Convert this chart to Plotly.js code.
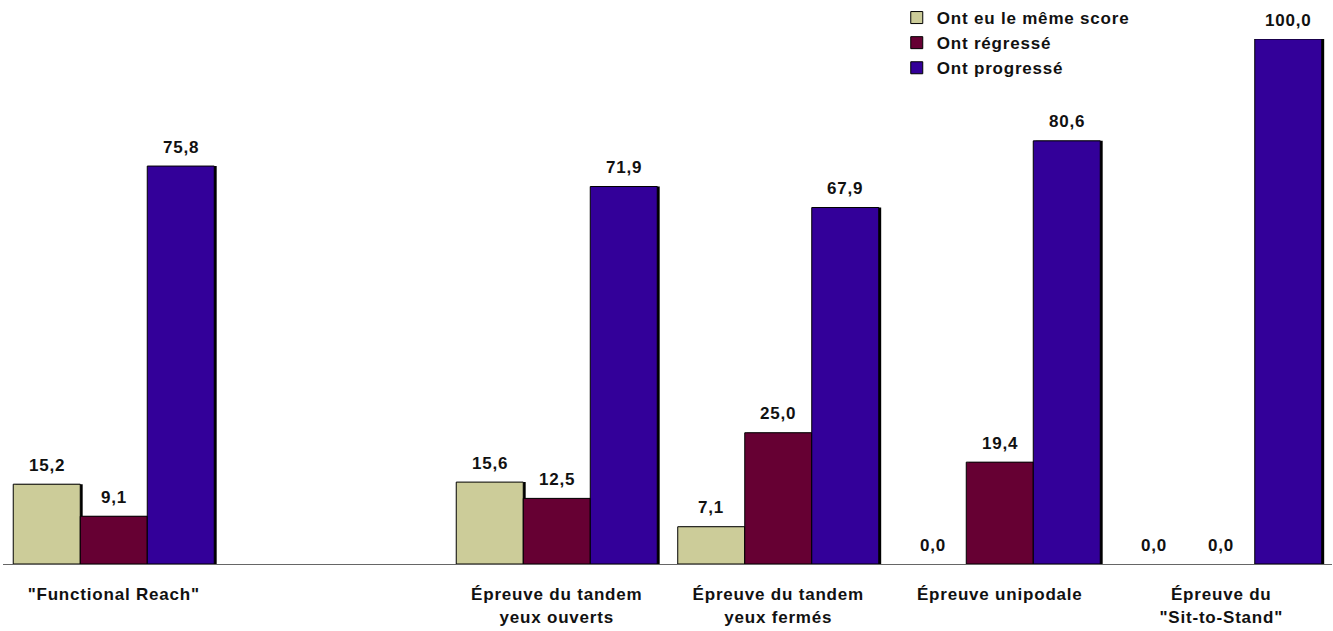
<!DOCTYPE html>
<html>
<head>
<meta charset="utf-8">
<script src="https://cdn.plot.ly/plotly-3.0.1.min.js"></script>
<style>
html,body{margin:0;padding:0;background:#fff;}
#chart{width:1333px;height:631px;}
svg text{letter-spacing:0.8px;}
</style>
</head>
<body>
<div id="chart"></div>
<script>
// Data
const categories = ['"Functional Reach"', '', 'Épreuve du tandem<br>yeux ouverts', 'Épreuve du tandem<br>yeux fermés', 'Épreuve unipodale', 'Épreuve du<br>"Sit-to-Stand"'];
const seriesNames = ['Ont eu le même score', 'Ont régressé', 'Ont progressé'];
const memeScore = [15.2, null, 15.6, 7.1, 0.0, 0.0];
const regresse = [9.1, null, 12.5, 25.0, 19.4, 0.0];
const progresse = [75.8, null, 71.9, 67.9, 80.6, 100.0];

const colors = ['#CCCC99', '#660033', '#330099'];
const allSeries = [memeScore, regresse, progresse];
const xIdx = categories.map((c, i) => i);

const barW = 0.3025;
const offsets = [-1.5 * barW, -0.5 * barW, 0.5 * barW];
const shadowShift = 0.011;
const fontFam = '"Liberation Sans", Arial, sans-serif';
const fsize = 17;

const traces = [];
// shadows
allSeries.forEach((s, j) => {
  traces.push({
    type: 'bar', x: xIdx, y: s, width: barW, offset: offsets[j] + shadowShift,
    marker: {color: '#000', line: {width: 0}}, showlegend: false, hoverinfo: 'skip'
  });
});
allSeries.forEach((s, j) => {
  traces.push({
    type: 'bar', name: seriesNames[j], x: xIdx, y: s, width: barW, offset: offsets[j],
    marker: {color: colors[j], line: {color: '#000', width: s.map(v => (v ? 1 : 0))}}
  });
});

const annotations = [];
allSeries.forEach((s, j) => {
  s.forEach((v, i) => {
    if (v === null) return;
    annotations.push({
      x: i + offsets[j] + barW / 2, y: v, xref: 'x', yref: 'y',
      text: v.toFixed(1).replace('.', ','), showarrow: false,
      yanchor: 'middle', yshift: 19,
      font: {family: fontFam, size: fsize, color: '#111', weight: 'bold'}
    });
  });
});

const layout = {
  width: 1333, height: 631,
  margin: {l: 3, r: 1, t: 38, b: 67},
  paper_bgcolor: '#fff', plot_bgcolor: '#fff',
  barmode: 'overlay',
  showlegend: true,
  legend: {
    x: 0.6725, y: 1.073, xanchor: 'left', yanchor: 'top',
    traceorder: 'normal',
    font: {family: fontFam, size: fsize, color: '#111', weight: 'bold'},
    bgcolor: 'rgba(0,0,0,0)', itemwidth: 30
  },
  xaxis: {
    range: [-0.5, 5.5], tickmode: 'array', tickvals: xIdx, ticktext: categories,
    showgrid: false, zeroline: false, showline: true, linecolor: '#666', linewidth: 1,
    ticks: '', ticklabelstandoff: 15,
    tickfont: {family: fontFam, size: fsize, color: '#111', weight: 'bold'}
  },
  yaxis: {
    range: [0, 100], showgrid: false, zeroline: false, showline: false,
    showticklabels: false, ticks: ''
  },
  annotations: annotations,
  font: {family: fontFam}
};

Plotly.newPlot('chart', traces, layout, {displayModeBar: false, staticPlot: true});
</script>
</body>
</html>
